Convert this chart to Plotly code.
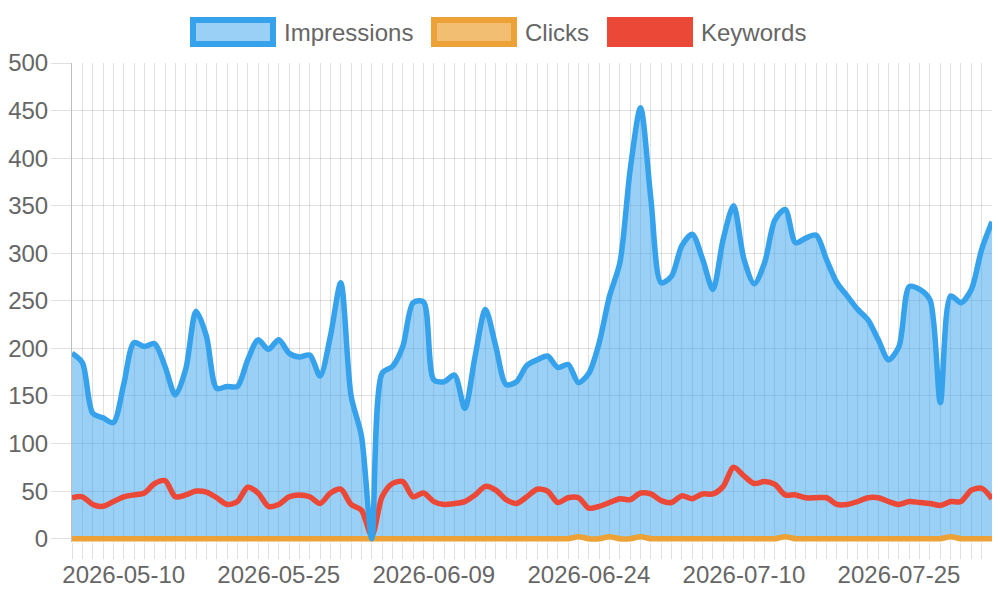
import pandas as pd
import plotly.graph_objs as go

# one day (2026-07-01) has no data, so the category axis skips it
dates = [d.strftime('%Y-%m-%d') for d in pd.date_range('2026-05-05', '2026-08-03')
         if d.strftime('%Y-%m-%d') != '2026-07-01']
label_idx = [5, 20, 35, 50, 65, 80]

impressions = [195, 185, 132, 127, 122, 162, 206, 202, 205, 181,
               151, 178, 239, 213, 158, 160, 160, 188, 209, 199,
               209, 195, 191, 193, 171, 213, 269, 150, 108, 0,
               174, 181, 202, 248, 249, 167, 165, 172, 137, 192,
               241, 202, 162, 165, 182, 188, 192, 180, 183, 164,
               174, 206, 255, 290, 388, 453, 357, 269, 276, 308,
               320, 294, 262, 315, 350, 294, 268, 290, 335, 346,
               311, 316, 319, 293, 269, 255, 241, 230, 209, 188,
               202, 265, 262, 251, 143, 255, 248, 262, 304, 333]
clicks = [0] * 49 + [2, 0, 0, 2, 0, 0, 2] + [0] * 13 + [2] + [0] * 15 + [2] + [0] * 4
keywords = [43, 44, 36, 34, 39, 44, 46, 48, 58, 61,
            44, 46, 50, 49, 43, 36, 39, 54, 48, 34,
            36, 44, 46, 44, 37, 48, 52, 36, 30, 3,
            44, 58, 60, 44, 48, 39, 36, 37, 39, 46,
            55, 51, 41, 37, 44, 52, 50, 38, 43, 43,
            32, 34, 38, 42, 41, 48, 47, 40, 38, 45,
            42, 47, 47, 55, 75, 66, 58, 60, 57, 46,
            46, 43, 43, 43, 36, 36, 39, 43, 43, 39,
            36, 39, 38, 37, 35, 39, 39, 51, 53, 42]

series = [
    ('Impressions', 'rgb(54,162,235)', 'rgba(54,162,235,0.5)'),
    ('Clicks', 'rgb(236,162,54)', 'rgba(236,162,54,0.7)'),
    ('Keywords', 'rgb(236,72,56)', 'rgb(236,72,56)'),
]

FONT = 'Liberation Sans, Arial, sans-serif'
GREY = '#666666'
GRID = 'rgba(0,0,0,0.12)'

# the page body has an 8px margin, so the figure is shrunk to fit the window
PAGE_W, PAGE_H, OFFSET = 1000, 600, 8
W, H = PAGE_W - 2 * OFFSET, PAGE_H - 2 * OFFSET
# plot area in page pixels, also used to place the hand-drawn legend
L, R, T, B = 72, 992, 63, 542.5


def px(x, y):
    return (x - L) / (R - L), (B - y) / (B - T)


fig = go.Figure()
spline = dict(shape='spline', smoothing=0.8)

# area under impressions goes first so that every line sits on top of it
fig.add_trace(go.Scatter(x=dates, y=impressions, mode='lines', fill='tozeroy',
                         fillcolor=series[0][2], line=dict(width=0, **spline),
                         showlegend=False, hoverinfo='skip'))
fig.add_trace(go.Scatter(x=dates, y=clicks, mode='lines', name='Clicks',
                         line=dict(color=series[1][1], width=5.5, **spline)))
fig.add_trace(go.Scatter(x=dates, y=keywords, mode='lines', name='Keywords',
                         line=dict(color=series[2][1], width=5.5, **spline)))
fig.add_trace(go.Scatter(x=dates, y=impressions, mode='lines', name='Impressions',
                         line=dict(color=series[0][1], width=5.5, **spline)))

# chart.js style legend: wide boxes with thick borders
legend_pos = [(190, 282), (431, 523), (607, 699)]
for (name, line_c, fill_c), (bx, tx) in zip(series, legend_pos):
    x0, y0 = px(bx + 3, 44)
    x1, y1 = px(bx + 83, 20)
    fig.add_shape(type='rect', xref='paper', yref='paper', x0=x0, y0=y0, x1=x1, y1=y1,
                  line=dict(color=line_c, width=6), fillcolor=fill_c)
    ax, ay = px(tx, 32)
    fig.add_annotation(xref='paper', yref='paper', x=ax, y=ay, text=name,
                       showarrow=False, xanchor='left', yanchor='middle',
                       font=dict(family=FONT, size=24, color=GREY))

fig.update_layout(
    width=W,
    height=H,
    showlegend=False,
    plot_bgcolor='white',
    paper_bgcolor='white',
    font=dict(family=FONT, size=24, color=GREY),
    margin={'l': L - OFFSET, 'r': W - (R - OFFSET), 't': T - OFFSET, 'b': H - (B - OFFSET)},
    hovermode='closest',
)
fig.update_xaxes(
    type='category',
    range=[0, len(dates) - 1],
    tickvals=dates,
    ticktext=[d if i in label_idx else '' for i, d in enumerate(dates)],
    tickangle=0,
    ticks='outside',
    ticklen=16,
    ticklabelstandoff=-5,
    tickcolor=GRID,
    showgrid=True,
    gridcolor=GRID,
    zeroline=False,
    automargin=False,
    tickfont=dict(family=FONT, size=24, color=GREY),
)
fig.update_yaxes(
    range=[-3.5, 500],
    tick0=0,
    dtick=50,
    ticks='outside',
    ticklen=20,
    ticklabelstandoff=-2,
    tickcolor=GRID,
    showgrid=True,
    gridcolor=GRID,
    showline=True,
    linecolor='rgba(0,0,0,0.25)',
    zeroline=False,
    automargin=False,
    tickfont=dict(family=FONT, size=24, color=GREY),
)

fig.write_html("out.html")
